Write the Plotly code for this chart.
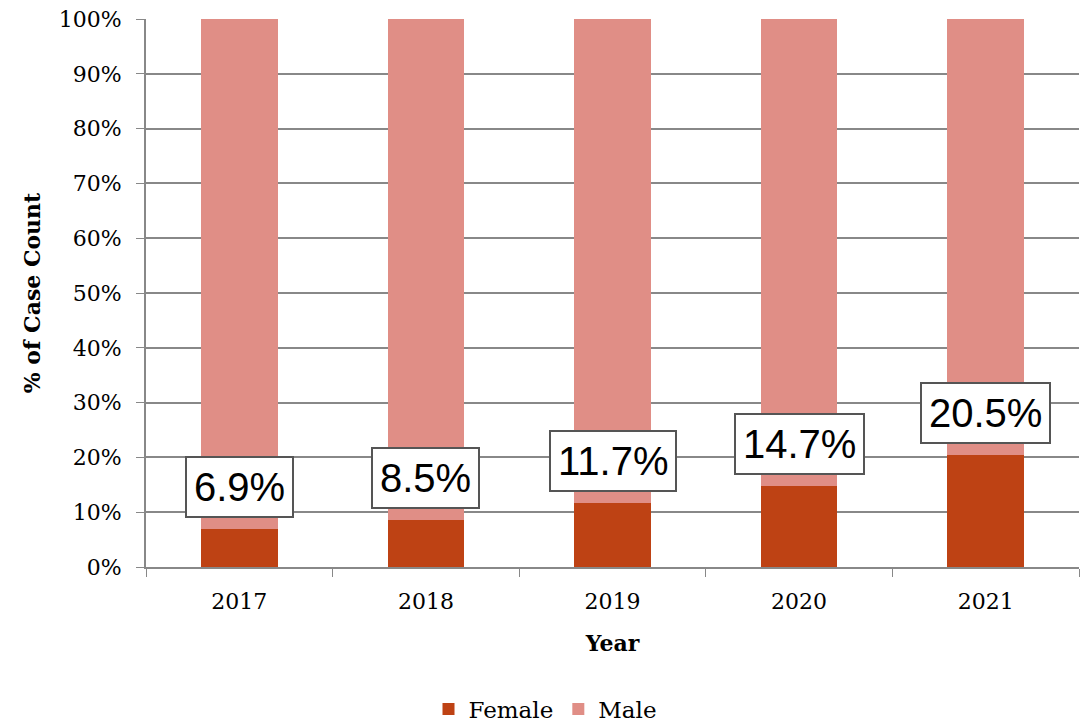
import plotly.graph_objects as go

years = ["2017", "2018", "2019", "2020", "2021"]
female = [6.9, 8.5, 11.7, 14.7, 20.5]
male = [100 - f for f in female]
labels = [f"{f:.1f}%" for f in female]

SERIF = "DejaVu Serif"
SANS = "Liberation Sans, Arial"

fig = go.Figure()
fig.add_bar(x=years, y=female, name="Female", marker_color="#BE4214", marker_line_width=0)
fig.add_bar(x=years, y=male, name="Male", marker_color="#E08E86", marker_line_width=0)

for i, (f, lab) in enumerate(zip(female, labels)):
    fig.add_annotation(
        x=i, y=f, xref="x", yref="y", text=lab,
        showarrow=False, yanchor="bottom", yshift=11,
        font=dict(family=SANS, size=40, color="black"),
        bgcolor="white", bordercolor="#555555", borderwidth=2, borderpad=7,
    )

fig.update_layout(
    barmode="stack",
    bargap=0.59,
    width=1091, height=724,
    margin=dict(l=146, r=12, t=19, b=157, autoexpand=False),
    paper_bgcolor="white", plot_bgcolor="white",
    font=dict(family=SERIF, size=22, color="black"),
    legend=dict(orientation="h", xref="container", x=0.5, xanchor="center",
                y=-0.259, yanchor="middle", itemwidth=30,
                font=dict(family=SERIF, size=23), traceorder="normal"),
    showlegend=True,
)
fig.update_xaxes(
    type="category", tickson="boundaries", ticks="outside", ticklen=8, tickcolor="#888888",
    showline=True, linecolor="#888888", linewidth=2, showgrid=False,
    tickfont=dict(family=SERIF, size=22), tickangle=0, ticklabelstandoff=14,
    title=dict(text="<b>Year</b>", font=dict(family=SERIF, size=22), standoff=22),
)
fig.update_yaxes(
    range=[0, 100], dtick=10, ticksuffix="%", ticks="outside", ticklen=8, tickcolor="#888888",
    showline=True, linecolor="#888888", linewidth=2,
    showgrid=True, gridcolor="#888888", gridwidth=2, zeroline=False,
    tickfont=dict(family=SERIF, size=22), ticklabelstandoff=10,
    title=dict(text="<b>% of Case Count</b>", font=dict(family=SERIF, size=22), standoff=12),
)

fig.write_html("out.html", config={"displayModeBar": False},
               post_script="document.body.style.margin='0';document.body.style.overflow='hidden';")
